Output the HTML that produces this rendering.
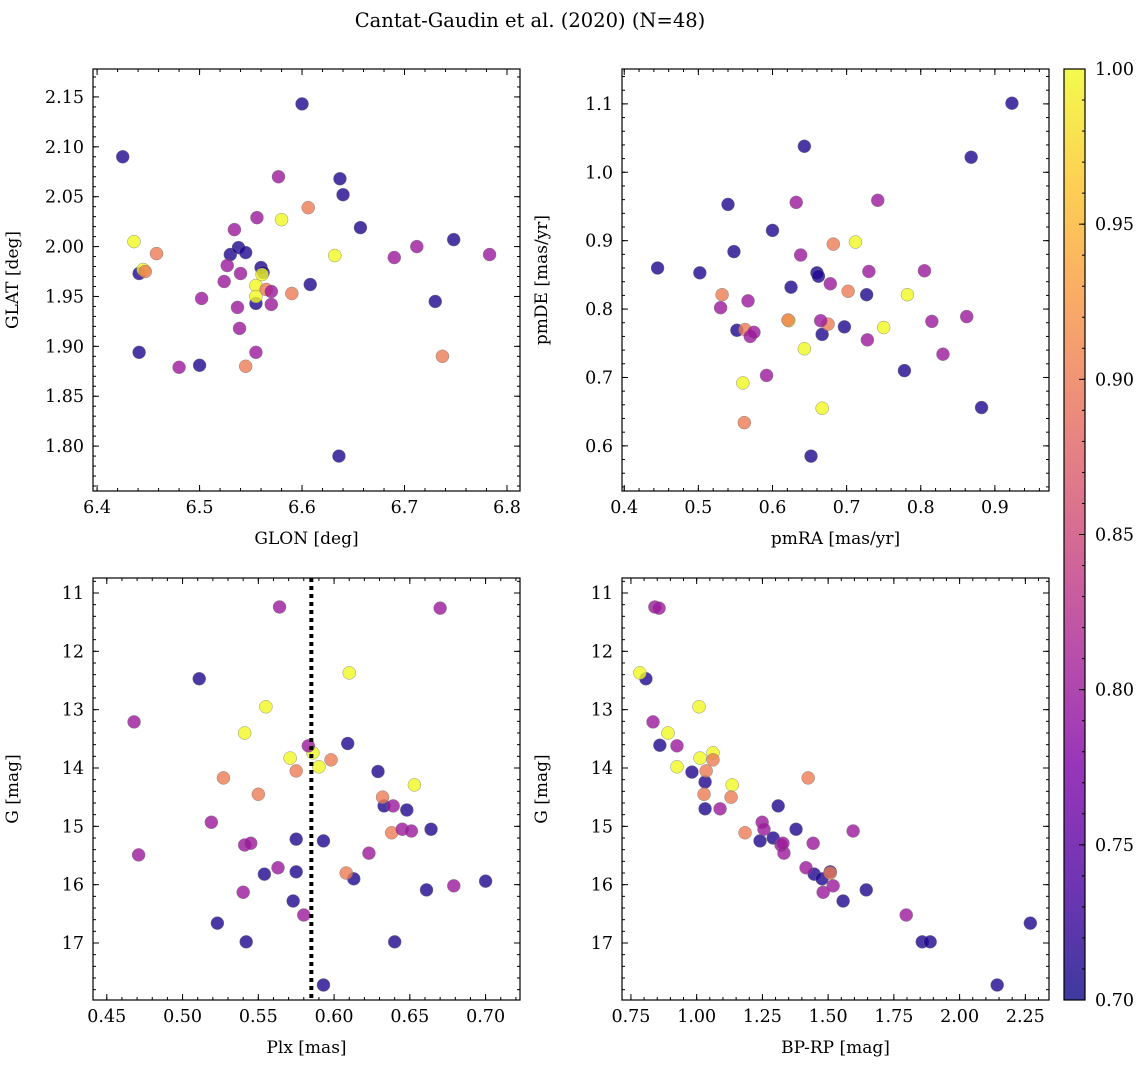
<!DOCTYPE html>
<html><head><meta charset="utf-8"><style>
body{margin:0;background:#fff;}
svg text{font-family:"DejaVu Serif","Liberation Serif",serif;fill:#000;}
</style></head><body>
<svg id="chart" width="1148" height="1068" viewBox="0 0 1148 1068" xmlns="http://www.w3.org/2000/svg">
<defs>
<linearGradient id="plasma" x1="0" y1="1" x2="0" y2="0">
<stop offset="0" stop-color="#0d0887"/><stop offset="0.125" stop-color="#4c02a1"/><stop offset="0.25" stop-color="#7e03a8"/><stop offset="0.375" stop-color="#a92395"/><stop offset="0.5" stop-color="#cc4778"/><stop offset="0.625" stop-color="#e66c5c"/><stop offset="0.75" stop-color="#f89540"/><stop offset="0.875" stop-color="#fdc328"/><stop offset="1" stop-color="#f0f921"/>
</linearGradient>
</defs>
<text x="530" y="27" font-size="19.5" text-anchor="middle">Cantat-Gaudin et al. (2020) (N=48)</text>
</svg>
<script>
// ---- data ----
const glon=[6.425,6.600,6.637,6.640,6.657,6.748,6.730,6.636,6.608,6.441,6.500,6.441,6.530,6.538,6.545,6.560,6.562,6.555,6.436,6.445,6.580,6.632,6.555,6.555,6.561,6.447,6.458,6.606,6.590,6.545,6.737,6.565,6.577,6.534,6.556,6.527,6.524,6.502,6.540,6.537,6.539,6.555,6.480,6.570,6.570,6.712,6.690,6.783];
const glat=[2.090,2.143,2.068,2.052,2.019,2.007,1.945,1.790,1.962,1.894,1.881,1.973,1.992,1.999,1.994,1.979,1.974,1.943,2.005,1.977,2.027,1.991,1.961,1.950,1.972,1.975,1.993,2.039,1.953,1.880,1.890,1.957,2.070,2.017,2.029,1.981,1.965,1.948,1.973,1.939,1.918,1.894,1.879,1.942,1.955,2.000,1.989,1.992];
const probA=[0.71,0.71,0.71,0.71,0.71,0.71,0.71,0.71,0.71,0.71,0.71,0.71,0.71,0.71,0.71,0.71,0.71,0.71,1,1,1,1,1,1,1,0.9,0.9,0.9,0.9,0.9,0.9,0.9,0.8,0.8,0.8,0.8,0.8,0.8,0.8,0.8,0.8,0.8,0.8,0.8,0.8,0.8,0.8,0.8];
const pmra=[0.445,0.502,0.540,0.548,0.552,0.600,0.625,0.643,0.660,0.662,0.667,0.697,0.727,0.652,0.778,0.868,0.882,0.923,0.712,0.750,0.782,0.643,0.560,0.667,0.622,0.532,0.563,0.562,0.621,0.682,0.675,0.702,0.530,0.567,0.570,0.575,0.592,0.632,0.638,0.665,0.678,0.730,0.728,0.742,0.805,0.815,0.830,0.862];
const pmde=[0.860,0.853,0.953,0.884,0.769,0.915,0.832,1.038,0.853,0.848,0.763,0.774,0.821,0.585,0.710,1.022,0.656,1.101,0.898,0.773,0.821,0.742,0.692,0.655,0.783,0.821,0.770,0.634,0.784,0.895,0.778,0.826,0.802,0.812,0.760,0.766,0.703,0.956,0.879,0.783,0.837,0.855,0.755,0.959,0.856,0.782,0.734,0.789];
const plx=[0.511,0.609,0.575,0.593,0.629,0.633,0.648,0.664,0.554,0.575,0.613,0.573,0.661,0.700,0.523,0.542,0.640,0.593,0.610,0.555,0.541,0.571,0.586,0.590,0.653,0.527,0.550,0.575,0.598,0.632,0.638,0.608,0.468,0.471,0.519,0.541,0.545,0.540,0.564,0.563,0.580,0.583,0.639,0.645,0.651,0.623,0.679,0.670];
const gmagC=[12.47,13.58,15.22,15.25,14.06,14.65,14.72,15.05,15.82,15.78,15.90,16.28,16.09,15.94,16.66,16.98,16.98,17.72,12.37,12.95,13.40,13.83,13.74,13.98,14.29,14.17,14.45,14.05,13.86,14.50,15.11,15.80,13.21,15.49,14.93,15.32,15.29,16.13,11.24,15.71,16.52,13.62,14.65,15.05,15.08,15.46,16.02,11.26];
const bprp=[0.807,0.860,0.982,1.032,1.032,1.310,1.378,1.241,1.291,1.447,1.477,1.508,1.645,1.557,1.858,1.888,2.143,2.269,0.784,0.891,0.925,1.009,1.013,1.062,1.135,1.062,1.028,1.131,1.184,1.424,1.508,1.036,0.834,0.841,0.857,0.925,1.089,1.249,1.256,1.321,1.332,1.328,1.443,1.416,1.481,1.519,1.595,1.797];
const gmagD=[12.47,13.61,14.07,14.24,14.70,14.65,15.05,15.25,15.20,15.82,15.90,15.78,16.09,16.28,16.98,16.98,17.72,16.66,12.37,13.40,13.98,12.95,13.83,13.74,14.29,13.86,14.45,14.50,15.11,14.17,15.80,14.05,13.21,11.24,11.26,13.62,14.70,14.93,15.05,15.32,15.46,15.29,15.29,15.71,16.13,16.02,15.08,16.52];
const plxCut=0.585;
const cbTicks=[0.70,0.75,0.80,0.85,0.90,0.95,1.00];

const NS='http://www.w3.org/2000/svg';
const svg=document.getElementById('chart');
function el(t,a,p){const e=document.createElementNS(NS,t);for(const k in a)e.setAttribute(k,a[k]);(p||svg).appendChild(e);return e;}
const stops=[[0,[13,8,135]],[0.125,[76,2,161]],[0.25,[126,3,168]],[0.375,[169,35,149]],[0.5,[204,71,120]],[0.625,[230,108,92]],[0.75,[248,149,64]],[0.875,[253,195,40]],[1,[240,249,33]]];
function plasma(v){let t=Math.max(0,Math.min(1,(v-0.7)/0.3));for(let i=1;i<stops.length;i++){if(t<=stops[i][0]){const a=stops[i-1],b=stops[i],f=(t-a[0])/(b[0]-a[0]);const c=a[1].map((x,j)=>Math.round(x+(b[1][j]-x)*f));return `rgb(${c})`;}}return 'rgb(240,249,33)';}
const TF=17.5, LF=17;
function panel(name,box,xd,yd,xt,yt,xdec,ydec,xminor,yminor,xlab,ylab,xs,ys,cs){
  const [L,T,R,B]=box;
  const g=el('g',{});  
  const sx=v=>L+(v-xd[0])/(xd[1]-xd[0])*(R-L);
  const sy=v=>T+(v-yd[0])/(yd[1]-yd[0])*(B-T);
  for(let i=0;i<xs.length;i++){
    const c=el('circle',{cx:sx(xs[i]),cy:sy(ys[i]),r:6.5,fill:plasma(cs[i]),'fill-opacity':0.8,stroke:'#777','stroke-width':0.4},g);
     
  }
  const tg=el('g',{stroke:'#000','stroke-width':1},g);
  xt.forEach(v=>{const x=sx(v);el('line',{x1:x,y1:B,x2:x,y2:B-6},tg);el('line',{x1:x,y1:T,x2:x,y2:T+6},tg);
    const t=el('text',{x:x,y:B+22,'font-size':TF,'text-anchor':'middle'},g);t.textContent=v.toFixed(xdec);});
  yt.forEach(v=>{const y=sy(v);el('line',{x1:L,y1:y,x2:L+6,y2:y},tg);el('line',{x1:R,y1:y,x2:R-6,y2:y},tg);
    const t=el('text',{x:L-9,y:y+6,'font-size':TF,'text-anchor':'end'},g);t.textContent=v.toFixed(ydec);});
  const xlo=Math.min(xd[0],xd[1]),xhi=Math.max(xd[0],xd[1]);
  for(let v=Math.ceil(xlo/xminor)*xminor;v<=xhi;v+=xminor){const x=sx(v);el('line',{x1:x,y1:B,x2:x,y2:B-3},tg);el('line',{x1:x,y1:T,x2:x,y2:T+3},tg);}
  const ylo=Math.min(yd[0],yd[1]),yhi=Math.max(yd[0],yd[1]);
  for(let v=Math.ceil(ylo/yminor)*yminor;v<=yhi;v+=yminor){const y=sy(v);el('line',{x1:L,y1:y,x2:L+3,y2:y},tg);el('line',{x1:R,y1:y,x2:R-3,y2:y},tg);}
  el('rect',{x:L,y:T,width:R-L,height:B-T,fill:'none',stroke:'#000','stroke-width':1.2},g);
  const xl=el('text',{x:(L+R)/2,y:B+53,'font-size':LF,'text-anchor':'middle'},g);xl.textContent=xlab;
  
  const yx=L-75,yy=(T+B)/2;
  const yl=el('text',{x:yx,y:yy,'font-size':LF,'text-anchor':'middle',transform:`rotate(-90 ${yx} ${yy})`},g);yl.textContent=ylab;
  
  return {sx,sy,g};
}
panel('glon-glat-panel',[93,69,520,491],[6.396,6.8127],[2.178,1.755],[6.4,6.5,6.6,6.7,6.8],[1.80,1.85,1.90,1.95,2.00,2.05,2.10,2.15],1,2,0.02,0.01,'GLON [deg]','GLAT [deg]',glon,glat,probA);
panel('pm-panel',[622,69,1049,491],[0.397,0.973],[1.151,0.534],[0.4,0.5,0.6,0.7,0.8,0.9],[0.6,0.7,0.8,0.9,1.0,1.1],1,1,0.02,0.02,'pmRA [mas/yr]','pmDE [mas/yr]',pmra,pmde,probA);
const p3=panel('plx-g-panel',[93,578,520,1000],[0.4409,0.7227],[10.743,17.977],[0.45,0.50,0.55,0.60,0.65,0.70],[11,12,13,14,15,16,17],2,0,0.01,0.2,'Plx [mas]','G [mag]',plx,gmagC,probA);
const cut=el('line',{x1:p3.sx(plxCut),y1:578,x2:p3.sx(plxCut),y2:1000,stroke:'#000','stroke-width':4,'stroke-dasharray':'4,4'},p3.g);


panel('cmd-panel',[622,578,1049,1000],[0.716,2.340],[10.743,17.977],[0.75,1.00,1.25,1.50,1.75,2.00,2.25],[11,12,13,14,15,16,17],2,0,0.05,0.2,'BP-RP [mag]','G [mag]',bprp,gmagD,probA);

const cb=el('g',{});


el('rect',{x:1064,y:69,width:21,height:931,fill:'url(#plasma)','fill-opacity':0.8,stroke:'#000','stroke-width':1.2},cb);
const cy=v=>1000-(v-0.7)/0.3*931;
cbTicks.forEach(v=>{el('line',{x1:1085,y1:cy(v),x2:1079,y2:cy(v),stroke:'#000'},cb);
  const t=el('text',{x:1095,y:cy(v)+6,'font-size':TF},cb);t.textContent=v.toFixed(2);
  });
for(let v=0.7;v<=1.0001;v+=0.01){el('line',{x1:1085,y1:cy(v),x2:1082,y2:cy(v),stroke:'#000'},cb);}
</script>
</body></html>
